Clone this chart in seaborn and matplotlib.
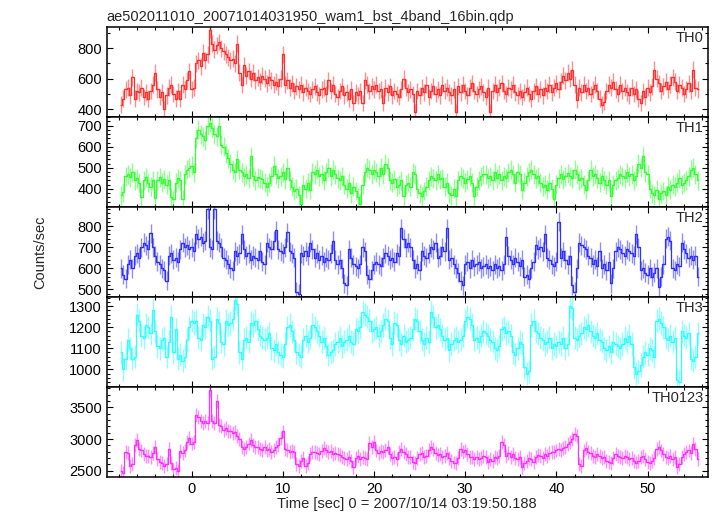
import numpy as np
import pandas as pd
import matplotlib
matplotlib.use("Agg")
import matplotlib.pyplot as plt
from matplotlib.ticker import MultipleLocator
import seaborn as sns

# light curve binning (seconds)
t_start = -7.75
bin_width = 0.25

th0 = [
    430, 470, 530, 540, 490, 610, 470, 520, 510, 540, 480, 510, 470, 520, 560, 640,
    530, 480, 510, 400, 490, 540, 560, 500, 470, 520, 470, 560, 530, 590, 650, 530,
    540, 700, 720, 680, 770, 720, 760, 920, 830, 790, 820, 840, 800, 780, 760, 740,
    720, 730, 700, 830, 640, 560, 690, 620, 650, 600, 640, 590, 610, 580, 620, 600,
    570, 610, 590, 560, 580, 550, 600, 760, 560, 590, 540, 570, 520, 550, 530, 560,
    510, 540, 520, 500, 530, 550, 510, 490, 530, 540, 500, 590, 520, 560, 500, 480,
    520, 550, 490, 510, 470, 530, 440, 510, 490, 520, 440, 590, 560, 520, 550, 530,
    560, 520, 530, 440, 540, 510, 550, 490, 520, 500, 480, 530, 600, 540, 510, 530,
    500, 380, 520, 490, 540, 510, 560, 480, 520, 550, 500, 530, 490, 560, 520, 540,
    510, 490, 530, 380, 550, 510, 560, 520, 490, 540, 570, 520, 500, 530, 550, 510,
    480, 540, 380, 520, 560, 510, 540, 570, 520, 500, 540, 530, 560, 510, 490, 520,
    480, 510, 540, 500, 470, 520, 550, 500, 530, 490, 540, 520, 560, 510, 540, 570,
    530, 580, 620, 590, 640, 600, 660, 560, 460, 540, 510, 560, 520, 540, 500, 530,
    560, 520, 470, 430, 450, 520, 560, 540, 580, 530, 500, 560, 520, 540, 510, 490,
    540, 500, 530, 470, 440, 520, 480, 540, 510, 550, 660, 600, 570, 520, 550, 580,
    530, 560, 610, 580, 520, 560, 540, 500, 530, 570, 520, 660, 540, 530,
]

th1 = [
    370, 385, 460, 470, 455, 480, 440, 450, 430, 360, 440, 455, 430, 410, 440, 355,
    440, 455, 430, 445, 420, 440, 360, 350, 430, 450, 440, 350, 470, 490, 500, 510,
    480, 640, 680, 660, 650, 630, 700, 715, 690, 660, 650, 700, 610, 600, 570, 545,
    520, 490, 480, 540, 490, 480, 460, 470, 450, 555, 460, 440, 455, 450, 445, 430,
    410, 430, 460, 510, 470, 450, 460, 480, 445, 500, 440, 410, 390, 400, 370, 330,
    420, 400, 430, 395, 480, 470, 490, 460, 470, 440, 480, 500, 460, 490, 470, 450,
    440, 460, 420, 400, 430, 380, 410, 390, 360, 330, 420, 480, 500, 490, 470, 490,
    480, 460, 500, 470, 520, 500, 440, 430, 445, 410, 420, 440, 365, 420, 430, 410,
    480, 470, 400, 380, 365, 390, 410, 440, 460, 450, 440, 470, 445, 450, 410, 430,
    380, 370, 400, 365, 440, 460, 450, 430, 445, 460, 430, 365, 410, 440, 460, 470,
    470, 450, 460, 440, 480, 450, 470, 440, 460, 450, 480, 490, 470, 430, 480, 470,
    395, 430, 460, 480, 490, 470, 450, 460, 430, 410, 420, 395, 430, 400, 350, 420,
    450, 470, 445, 460, 475, 460, 450, 490, 470, 440, 450, 420, 395, 440, 490, 460,
    470, 450, 430, 460, 440, 420, 440, 365, 420, 440, 450, 470, 460, 450, 480, 460,
    470, 440, 460, 520, 500, 555, 480, 470, 400, 380, 370, 395, 350, 380, 390, 370,
    410, 395, 420, 410, 430, 450, 420, 430, 440, 460, 490, 500, 470, 440,
]

th2 = [
    600, 570, 550, 620, 640, 600, 660, 670, 650, 700, 720, 710, 690, 765, 700, 660,
    630, 620, 600, 590, 540, 660, 670, 640, 650, 630, 690, 720, 700, 710, 690, 700,
    680, 760, 740, 750, 720, 730, 880, 700, 690, 880, 730, 720, 700, 650, 640, 620,
    600, 590, 680, 660, 670, 760, 690, 660, 670, 640, 660, 650, 640, 680, 630, 620,
    720, 700, 690, 730, 780, 690, 680, 670, 700, 770, 680, 670, 650, 490, 480, 670,
    660, 680, 660, 720, 690, 650, 670, 640, 660, 630, 650, 640, 670, 730, 640, 620,
    640, 600, 530, 520, 690, 650, 620, 610, 600, 620, 700, 680, 570, 550, 590, 620,
    630, 620, 610, 650, 670, 660, 640, 650, 630, 670, 660, 790, 740, 700, 720, 700,
    640, 600, 620, 590, 680, 660, 650, 670, 700, 690, 720, 650, 660, 700, 680, 790,
    640, 650, 620, 600, 580, 540, 520, 620, 630, 600, 640, 610, 620, 630, 600, 610,
    620, 600, 610, 590, 620, 600, 610, 590, 620, 750, 660, 640, 620, 650, 630, 610,
    640, 560, 570, 550, 600, 630, 710, 690, 700, 680, 760, 650, 640, 620, 610, 630,
    820, 650, 680, 640, 620, 660, 520, 490, 600, 720, 710, 700, 690, 660, 650, 620,
    640, 610, 680, 600, 620, 590, 630, 530, 600, 680, 700, 690, 670, 660, 690, 680,
    670, 660, 760, 700, 590, 600, 580, 570, 600, 560, 580, 600, 510, 560, 620, 740,
    750, 730, 600, 590, 620, 610, 720, 690, 670, 650, 660, 640, 660, 560,
]

th3 = [
    1080, 1000, 1050, 1140, 1100, 1050, 1060, 1260, 1230, 1160, 1150, 1210, 1200, 1170, 1280, 1180,
    1110, 1100, 1140, 1150, 1060, 1130, 1250, 1080, 1190, 1050, 1070, 1040, 1060, 1140, 1200, 1230,
    1220, 1230, 1150, 1140, 1210, 1200, 1250, 1230, 1050, 1060, 1240, 1220, 1130, 1120, 1230, 1210,
    1220, 1240, 1330, 1310, 1080, 1050, 1140, 1150, 1130, 1220, 1210, 1230, 1190, 1160, 1150, 1140,
    1150, 1170, 1100, 1090, 1120, 1080, 1070, 1060, 1120, 1200, 1210, 1180, 1140, 1080, 1070, 1060,
    1140, 1160, 1130, 1150, 1210, 1200, 1180, 1160, 1130, 1150, 1110, 1070, 1080, 1090, 1120, 1130,
    1150, 1110, 1130, 1140, 1160, 1130, 1120, 1190, 1180, 1200, 1270, 1260, 1250, 1230, 1180, 1190,
    1200, 1160, 1180, 1210, 1240, 1230, 1150, 1120, 1220, 1210, 1140, 1120, 1160, 1130, 1140, 1150,
    1190, 1240, 1230, 1180, 1140, 1120, 1150, 1130, 1270, 1250, 1200, 1210, 1190, 1160, 1140, 1150,
    1090, 1120, 1140, 1150, 1130, 1140, 1160, 1230, 1250, 1240, 1210, 1140, 1150, 1130, 1160, 1180,
    1170, 1160, 1140, 1130, 1100, 1090, 1110, 1190, 1200, 1170, 1180, 1160, 1080, 1070, 1100, 1130,
    1120, 1010, 980, 990, 1210, 1230, 1180, 1170, 1150, 1140, 1120, 1130, 1150, 1100, 1120, 1110,
    1130, 1120, 1150, 1100, 1120, 1300, 1290, 1150, 1140, 1160, 1170, 1200, 1190, 1210, 1180, 1160,
    1150, 1170, 1140, 1130, 1100, 1090, 1110, 1080, 1130, 1120, 1110, 1100, 1120, 1150, 1130, 1160,
    1120, 1010, 980, 990, 1020, 1060, 1080, 1070, 1100, 1090, 1060, 1230, 1240, 1220, 1200, 1150,
    1140, 1160, 1130, 1150, 950, 940, 1180, 1160, 1150, 1170, 1050, 1040, 1060, 1170,
]

th0123 = [
    2500, 2470, 2800, 2780, 2580, 2600, 2900, 2980, 2850, 2820, 2760, 2740, 2730, 2720, 2780, 2870,
    2680, 2640, 2620, 2580, 2600, 2850, 2620, 2520, 2540, 2500, 2810, 2780, 2820, 2960, 3010, 2930,
    2950, 3380, 3350, 3280, 3250, 3290, 3260, 3780, 3290, 3250, 3600, 3220, 3200, 3150, 3170, 3130,
    3120, 3100, 3110, 3050, 3000, 2870, 2840, 2880, 2930, 2990, 2900, 2870, 2880, 2850, 2830, 2880,
    2820, 2850, 2800, 2830, 2870, 2900, 3020, 3120, 2850, 2830, 2800, 2810, 2790, 2600, 2580, 2650,
    2700, 2580, 2620, 2760, 2790, 2800, 2780, 2770, 2810, 2860, 2820, 2790, 2810, 2770, 2780, 2760,
    2750, 2720, 2700, 2680, 2720, 2650, 2560, 2700, 2730, 2690, 2720, 2700, 2680, 2940, 2880, 2960,
    2820, 2780, 2810, 2790, 2830, 2870, 2760, 2700, 2720, 2680, 2790, 2850, 2800, 2760, 2710, 2720,
    2640, 2620, 2700, 2760, 2780, 2720, 2740, 2830, 2870, 2840, 2780, 2750, 2770, 2720, 2740, 2780,
    2700, 2650, 2630, 2620, 2700, 2850, 2800, 2820, 2760, 2720, 2710, 2680, 2720, 2690, 2700, 2730,
    2710, 2640, 2680, 2650, 2720, 2700, 2740, 2950, 2900, 2740, 2780, 2720, 2760, 2700, 2690, 2710,
    2560, 2620, 2650, 2700, 2680, 2640, 2720, 2750, 2730, 2700, 2760, 2740, 2780, 2800, 2790, 2820,
    2850, 2830, 2860, 2880, 2920, 2950, 3000, 3080, 3050, 2600, 2580, 2820, 2860, 2800, 2780, 2740,
    2720, 2760, 2740, 2700, 2710, 2650, 2640, 2620, 2700, 2760, 2740, 2720, 2700, 2740, 2720, 2680,
    2700, 2650, 2630, 2660, 2710, 2740, 2680, 2640, 2620, 2660, 2700, 2850, 2880, 2820, 2760, 2720,
    2700, 2740, 2680, 2720, 2560, 2600, 2720, 2760, 2800, 2820, 2780, 2930, 2840, 2680,
]

bands = ["TH0", "TH1", "TH2", "TH3", "TH0123"]
band_rates = [th0, th1, th2, th3, th0123]
band_errors = [55, 45, 45, 55, 110]
band_colors = ["#ff3030", "#30ff30", "#3030ff", "#30ffff", "#ff30ff"]
y_limits = [(350, 940), (315, 742), (465, 891), (917, 1344), (2405, 3825)]
y_major = [200, 100, 100, 100, 500]
y_minor = [100, 20, 20, 20, 100]

sns.set_theme(style="ticks")
plt.rcParams["font.family"] = ["Liberation Sans", "DejaVu Sans"]

fig, axes = plt.subplots(5, 1, figsize=(7.17, 5.16), dpi=100, sharex=True)
fig.subplots_adjust(left=0.149, right=0.987, top=0.948, bottom=0.076, hspace=0)

for i, ax in enumerate(axes):
    rates = np.array(band_rates[i])
    time = t_start + bin_width * np.arange(len(rates))
    df = pd.DataFrame({"time": time, "rate": rates})
    color = band_colors[i]

    ax.errorbar(df["time"], df["rate"], yerr=band_errors[i], xerr=bin_width / 2,
                fmt="none", ecolor=color, alpha=0.55, elinewidth=1.0)
    sns.lineplot(data=df, x="time", y="rate", ax=ax, color=color, lw=0.9,
                 drawstyle="steps-mid", estimator=None)

    ax.set_xlim(-9.3, 56.6)
    ax.set_ylim(*y_limits[i])
    ax.xaxis.set_major_locator(MultipleLocator(10))
    ax.xaxis.set_minor_locator(MultipleLocator(2))
    ax.yaxis.set_major_locator(MultipleLocator(y_major[i]))
    ax.yaxis.set_minor_locator(MultipleLocator(y_minor[i]))
    ax.tick_params(which="both", direction="in", top=True, right=True,
                   labelsize=10.5, width=0.8, colors="black")
    ax.tick_params(which="major", length=4.5)
    ax.tick_params(which="minor", length=2.5)
    for sp in ax.spines.values():
        sp.set_linewidth(1.1)
        sp.set_color("black")
    ax.set_xlabel("")
    ax.set_ylabel("")
    ax.text(0.993, 0.95, bands[i], transform=ax.transAxes, ha="right", va="top",
            fontsize=10.5)

axes[0].set_title("ae502011010_20071014031950_wam1_bst_4band_16bin.qdp",
                  loc="left", fontsize=10.5, pad=4)
axes[-1].set_xlabel("Time [sec] 0 = 2007/10/14 03:19:50.188", fontsize=10.5,
                    labelpad=1)
fig.text(0.056, 0.512, "Counts/sec", rotation=90, ha="center", va="center",
         fontsize=10.5)

fig.savefig("out.png", dpi=100)
